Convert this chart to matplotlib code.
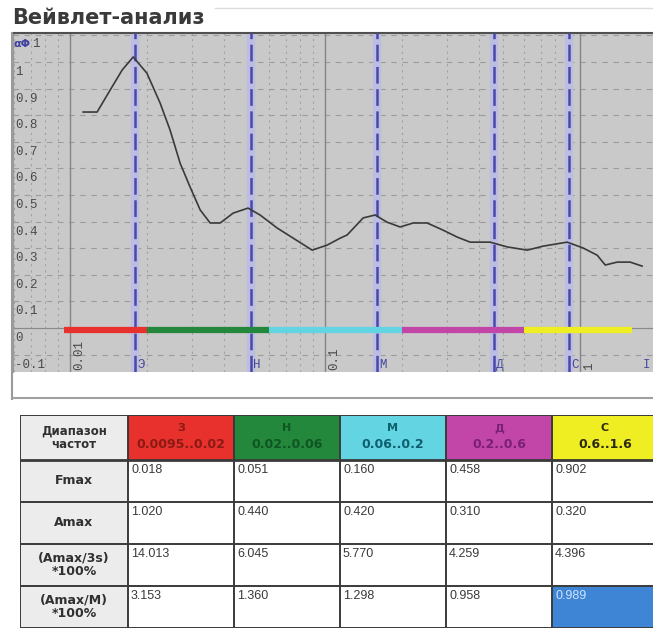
"""Wavelet analysis panel: amplitude spectrum with band markers + summary table."""
import matplotlib

matplotlib.use("Agg")
import matplotlib.pyplot as plt
from matplotlib.lines import Line2D
from matplotlib.patches import Rectangle
from matplotlib.ticker import NullLocator

# ---- data ----
FREQ = [0.01125, 0.01276, 0.01436, 0.0160, 0.01767, 0.0200, 0.02253, 0.02466, 0.02699,
        0.02954, 0.03236, 0.03541, 0.03876, 0.04355, 0.04986, 0.05557, 0.06486, 0.07493,
        0.08893, 0.1019, 0.1145, 0.1220, 0.1409, 0.1570, 0.1749, 0.1968, 0.2214, 0.2512,
        0.2902, 0.3294, 0.3704, 0.4436, 0.5176, 0.6200, 0.7161, 0.8890, 1.027, 1.166,
        1.254, 1.397, 1.571, 1.749]
AMP = [0.812, 0.812, 0.895, 0.970, 1.019, 0.958, 0.846, 0.744, 0.620,
       0.530, 0.444, 0.395, 0.395, 0.432, 0.451, 0.425, 0.376, 0.338,
       0.293, 0.312, 0.338, 0.350, 0.414, 0.425, 0.398, 0.380, 0.395, 0.395,
       0.368, 0.342, 0.323, 0.323, 0.305, 0.293, 0.308, 0.323, 0.301, 0.274,
       0.237, 0.248, 0.248, 0.233]

BAND_NAMES = ["З", "Н", "М", "Д", "С"]
CHART_LETTERS = ["Э", "Н", "М", "Д", "С"]
BAND_LO = [0.0095, 0.02, 0.06, 0.2, 0.6]
BAND_HI = [0.02, 0.06, 0.2, 0.6, 1.6]
RANGES = ["0.0095..0.02", "0.02..0.06", "0.06..0.2", "0.2..0.6", "0.6..1.6"]
BAND_COLORS = ["#e8302c", "#23883c", "#62d4e2", "#c246a8", "#eeee22"]
HEAD_TEXT = ["#8a1a14", "#0f5522", "#0d5f6e", "#7a1f78", "#2a2a10"]

ROW_LABELS = ["Fmax", "Amax", "(Amax/3s)\n*100%", "(Amax/M)\n*100%"]
FMAX = [0.018, 0.051, 0.160, 0.458, 0.902]
AMAX = [1.020, 0.440, 0.420, 0.310, 0.320]
A3S = [14.013, 6.045, 5.770, 4.259, 4.396]
AM = [3.153, 1.360, 1.298, 0.958, 0.989]
ROWS = [FMAX, AMAX, A3S, AM]

YTICKS = [1.0, 0.9, 0.8, 0.7, 0.6, 0.5, 0.4, 0.3, 0.2, 0.1, 0.0, -0.1]
YLABELS = ["1", "0.9", "0.8", "0.7", "0.6", "0.5", "0.4", "0.3", "0.2", "0.1", "0", "-0.1"]
XMAJOR = [0.01, 0.1, 1.0]
XLABELS = ["0.01", "0.1", "1"]

W, H = 653, 630
plt.rcParams["lines.scale_dashes"] = False
fig = plt.figure(figsize=(W / 100, H / 100), dpi=100)
fig.patch.set_facecolor("white")


def px_axes(x0, y0, x1, y1):
    return fig.add_axes([x0 / W, 1 - y1 / H, (x1 - x0) / W, (y1 - y0) / H])


# title + frame decorations
fig.text(12 / W, 1 - 18 / H, "Вейвлет-анализ", fontsize=15, fontweight="bold",
         color="#3a3a3a", va="center", ha="left")
fig.add_artist(Line2D([215 / W, 1], [1 - 8 / H] * 2, color="#dcdcdc", lw=1))
fig.add_artist(Line2D([12.5 / W, 12.5 / W], [1 - 33 / H, 1 - 399 / H], color="#9a9a9a", lw=1.5))
fig.add_artist(Line2D([12 / W, 1], [1 - 398 / H] * 2, color="#a0a0a0", lw=1.5))

# ---- spectrum plot ----
ax = px_axes(13, 33, 653, 372)
ax.set_xscale("log")
ax.set_xlim(0.00597, 1.93)
ax.set_ylim(-0.165, 1.109)
ax.set_facecolor("#c9c9c9")
ax.xaxis.set_major_locator(NullLocator())
ax.xaxis.set_minor_locator(NullLocator())
ax.set_yticks([])
for s in ["right", "bottom"]:
    ax.spines[s].set_visible(False)
ax.spines["top"].set_color("#505050")
ax.spines["top"].set_linewidth(1.5)
ax.spines["left"].set_color("#9a9a9a")

for v in YTICKS + [1.1]:
    ax.axhline(v, color="#9c9c9c", lw=0.8, dashes=(4, 4), zorder=1)
for dec in [0.001, 0.01, 0.1, 1.0]:
    for k in range(2, 10):
        ax.axvline(dec * k, color="#a0a0a0", lw=0.8, dashes=(1.5, 3), zorder=1)
for v in XMAJOR:
    ax.axvline(v, color="#858585", lw=1.0, zorder=1)
ax.axhline(0, color="#8a8a8a", lw=0.8, zorder=1)

for f in FMAX:
    ax.axvline(f, color="#bdbde4", lw=6, zorder=2)
    ax.axvline(f, color="#4848a8", lw=1.8, dashes=(12, 4), zorder=3)

for lo, hi, c in zip(BAND_LO, BAND_HI, BAND_COLORS):
    ax.plot([lo, hi], [-0.008, -0.008], color=c, lw=4.5, solid_capstyle="butt", zorder=4)

ax.plot(FREQ, AMP, color="#3a3a3a", lw=1.2, zorder=5)

mono = "Liberation Mono"
for v, lab in zip(YTICKS, YLABELS):
    ax.annotate(lab, xy=(0, v), xycoords=("axes fraction", "data"), xytext=(2, -10),
                textcoords="offset pixels", ha="left", va="center", fontsize=9,
                family=mono, color="#4a4a4a", zorder=6)
ax.annotate("αΦ", xy=(0, 1.1), xycoords=("axes fraction", "data"), xytext=(1, -9),
            textcoords="offset pixels", ha="left", va="center", fontsize=8,
            fontweight="bold", color="#4040a0", zorder=6)
ax.annotate("1", xy=(0, 1.1), xycoords=("axes fraction", "data"), xytext=(19, -9),
            textcoords="offset pixels", ha="left", va="center", fontsize=9,
            family=mono, color="#4a4a4a", zorder=6)
for v, lab in zip(XMAJOR, XLABELS):
    ax.annotate(lab, xy=(v, 0), xycoords=("data", "axes fraction"), xytext=(3, 2),
                textcoords="offset pixels", rotation=90, ha="left", va="bottom",
                fontsize=9, family=mono, color="#4a4a4a", zorder=6)
for f, lab in zip(FMAX, CHART_LETTERS):
    ax.annotate(lab, xy=(f, 0), xycoords=("data", "axes fraction"), xytext=(2, 1),
                textcoords="offset pixels", ha="left", va="bottom", fontsize=9,
                family=mono, color="#4646a0", zorder=6)
ax.annotate("I", xy=(1, 0), xycoords="axes fraction", xytext=(-10, 1),
            textcoords="offset pixels", ha="left", va="bottom", fontsize=9,
            family=mono, color="#4646a0", zorder=6)

# ---- summary table ----
col_w = [108] + [106] * 5
row_h = [45, 42, 42, 42, 42]
tax = px_axes(20, 415, 20 + sum(col_w), 415 + sum(row_h))
tax.set_xlim(0, sum(col_w))
tax.set_ylim(sum(row_h), 0)
tax.axis("off")
xs = [sum(col_w[:j]) for j in range(len(col_w) + 1)]
ys = [sum(row_h[:i]) for i in range(len(row_h) + 1)]

sans = "Liberation Sans"
bold = "DejaVu Sans"
tax.add_patch(Rectangle((0, 0), col_w[0], sum(row_h), facecolor="#ececec", edgecolor="none"))
tax.text(col_w[0] / 2, row_h[0] / 2, "Диапазон\nчастот", ha="center", va="center",
         fontsize=8.5, fontweight="bold", color="#303030", family=bold, linespacing=1.05)
for j, (name, rng, c, tc) in enumerate(zip(BAND_NAMES, RANGES, BAND_COLORS, HEAD_TEXT)):
    x0 = xs[j + 1]
    tax.add_patch(Rectangle((x0, 0), col_w[j + 1], row_h[0], facecolor=c, edgecolor="none"))
    tax.text(x0 + col_w[j + 1] / 2, 13, name, ha="center", va="center",
             fontsize=8, fontweight="bold", color=tc, family=bold)
    tax.text(x0 + col_w[j + 1] / 2, 30, rng, ha="center", va="center",
             fontsize=9, fontweight="bold", color=tc, family=bold)
for i, (lab, vals) in enumerate(zip(ROW_LABELS, ROWS)):
    y0 = ys[i + 1]
    tax.text(col_w[0] / 2, y0 + row_h[i + 1] / 2, lab, ha="center", va="center",
             fontsize=9, fontweight="bold", color="#303030", family=bold, linespacing=1.05)
    for j, v in enumerate(vals):
        x0 = xs[j + 1]
        hi = (i == len(ROWS) - 1 and j == len(vals) - 1)
        if hi:
            tax.add_patch(Rectangle((x0, y0), col_w[j + 1], row_h[i + 1],
                                    facecolor="#3f85d6", edgecolor="none"))
        tax.text(x0 + 3, y0 + 4, f"{v:.3f}", ha="left", va="top", fontsize=9,
                 family=sans, color="#cfe3ff" if hi else "#3a3a3a")

for x in xs:
    tax.plot([x, x], [0, sum(row_h)], color="#3a3a3a", lw=1.4, solid_capstyle="butt")
for k, y in enumerate(ys):
    tax.plot([0, sum(col_w)], [y, y], color="#3a3a3a", lw=2.0 if k == 1 else 1.4,
             solid_capstyle="butt")

fig.savefig("out.png", dpi=100, facecolor="white")
